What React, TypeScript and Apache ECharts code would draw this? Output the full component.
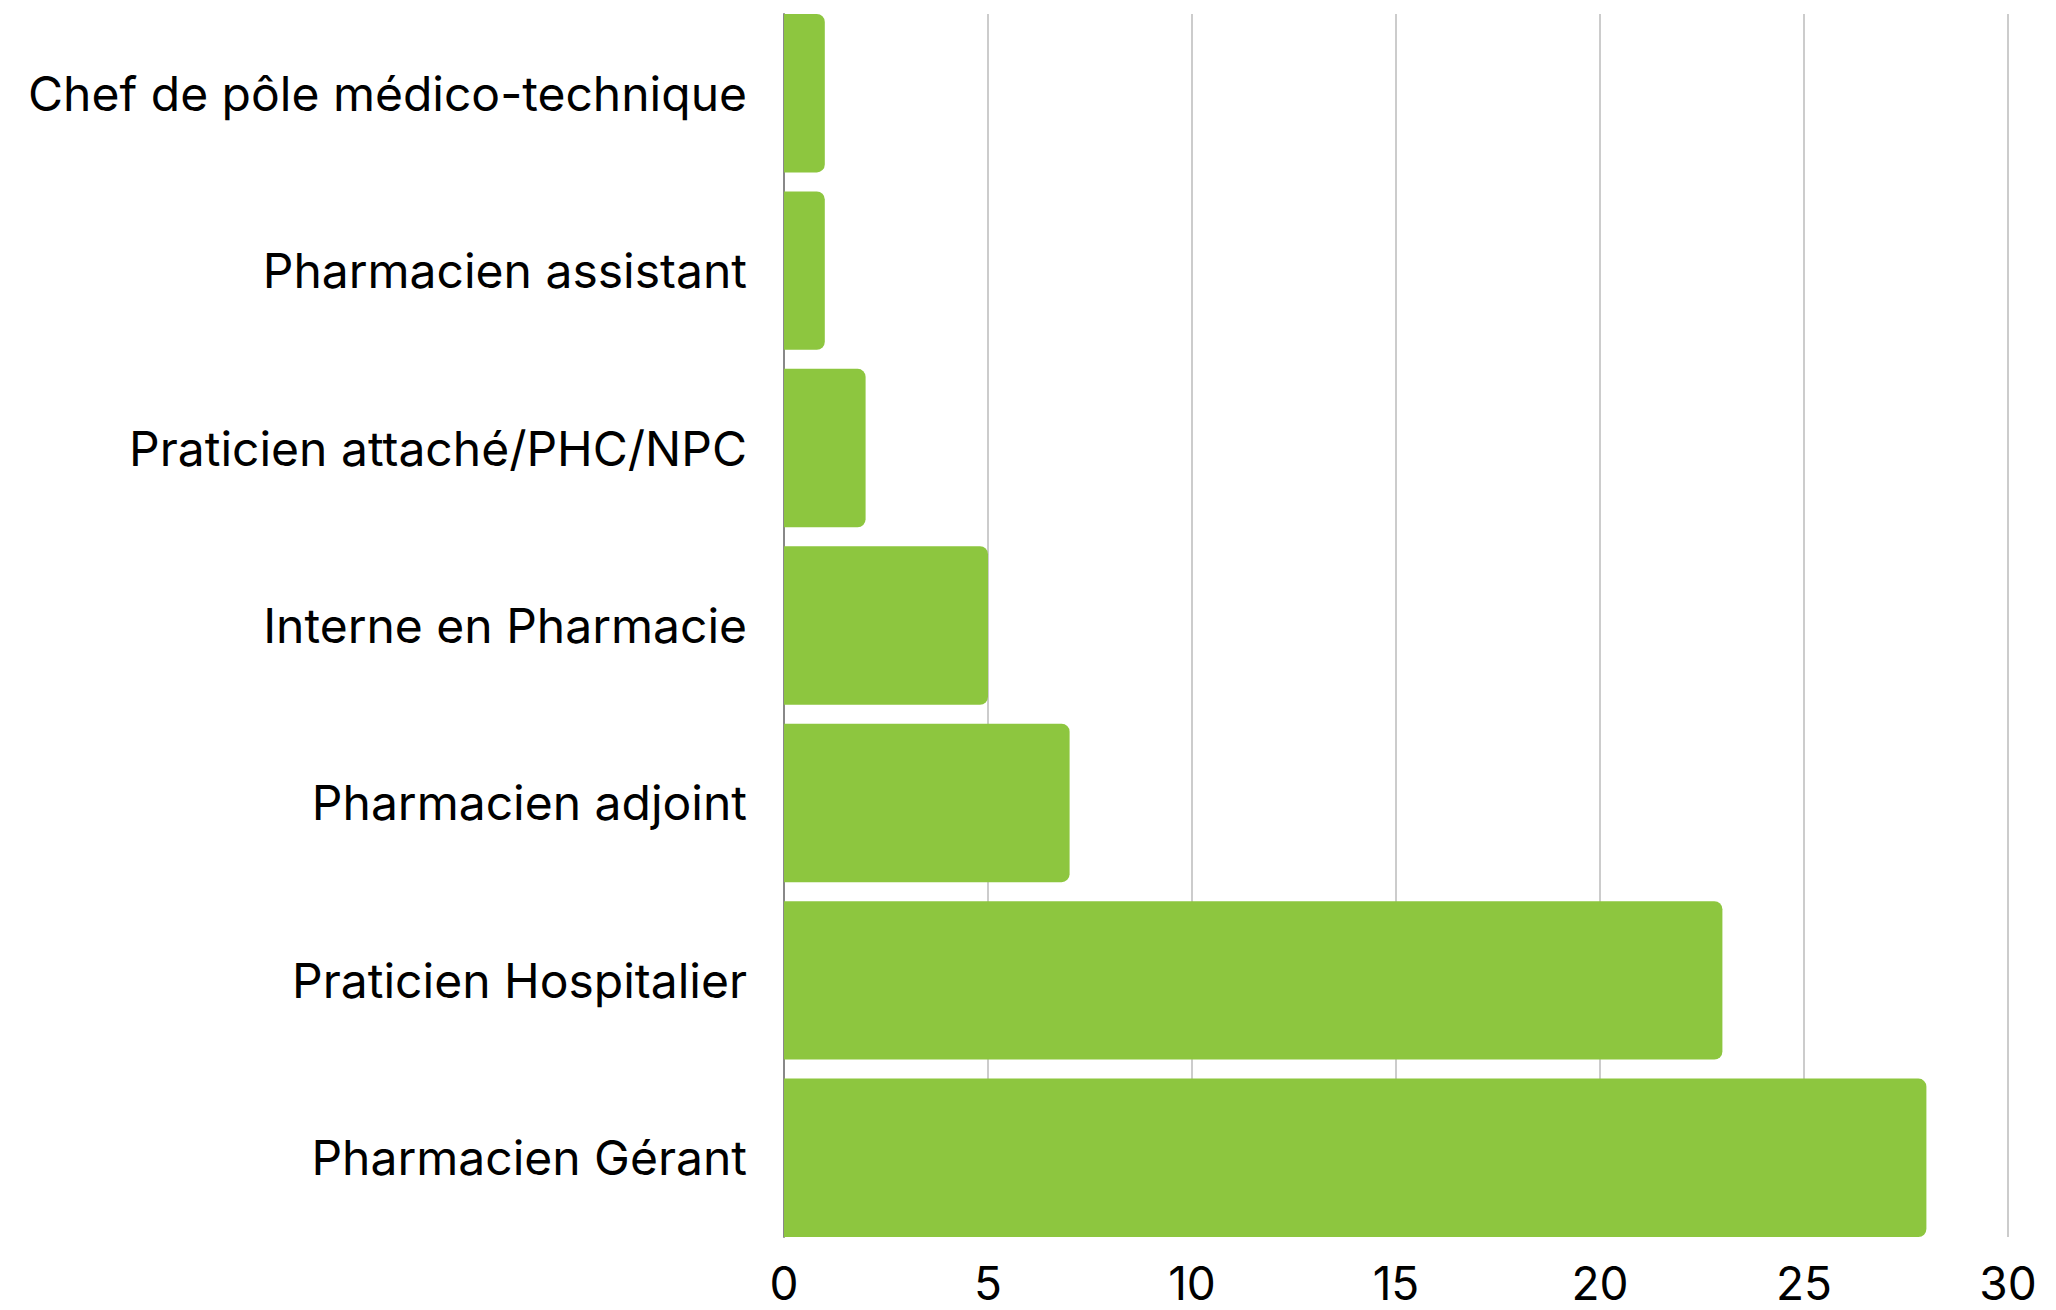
import React, { useEffect, useRef } from "react";
import * as echarts from "echarts";

const categories = [
  "Chef de pôle médico-technique",
  "Pharmacien assistant",
  "Praticien attaché/PHC/NPC",
  "Interne en Pharmacie",
  "Pharmacien adjoint",
  "Praticien Hospitalier",
  "Pharmacien Gérant",
];
const values = [1, 1, 2, 5, 7, 23, 28];

export default function App() {
  const ref = useRef<HTMLDivElement>(null);
  useEffect(() => {
    const chart = echarts.init(ref.current!, null, { renderer: "svg" });
    chart.setOption({
      animation: false,
      textStyle: { fontFamily: "Inter" },
      grid: [
        { left: 784, right: 48, top: 4.5, bottom: 63.5, containLabel: false },
        { left: 784, right: 48, top: 14, bottom: 73, containLabel: false },
      ],
      xAxis: [
        {
          gridIndex: 0,
          type: "value",
          min: 0,
          max: 30,
          interval: 5,
          show: true,
          axisLine: { show: false },
          axisTick: { show: false },
          splitLine: { show: false },
          axisLabel: { show: false },
        },
        {
          gridIndex: 1,
          type: "value",
          min: 0,
          max: 30,
          interval: 5,
          axisLine: { show: false },
          axisTick: { show: false },
          splitLine: { show: true, lineStyle: { color: "#cccccc", width: 2 } },
          axisLabel: { color: "#000", fontSize: 46, fontFamily: "Inter", margin: 23 },
        },
      ],
      yAxis: [
        {
          gridIndex: 0,
          type: "category",
          data: categories,
          inverse: true,
          axisLine: { show: false },
          axisTick: { show: false },
          axisLabel: { color: "#000", fontSize: 48, fontFamily: "Inter", margin: 37 },
        },
        {
          gridIndex: 1,
          type: "value",
          min: 0,
          max: 1,
          axisLine: { show: true, lineStyle: { color: "#888", width: 2 } },
          axisTick: { show: false },
          axisLabel: { show: false },
          splitLine: { show: false },
        },
      ],
      series: [
        {
          type: "bar",
          xAxisIndex: 0,
          yAxisIndex: 0,
          data: values,
          barCategoryGap: "10.7%",
          itemStyle: { color: "#8dc63f", borderRadius: [0, 8, 8, 0] },
          z: 3,
        },
      ],
    });
    return () => chart.dispose();
  }, []);
  return (
    <div
      ref={ref}
      style={{ position: "fixed", left: 0, top: 0, width: 2056, height: 1310, background: "#fff" }}
    />
  );
}
